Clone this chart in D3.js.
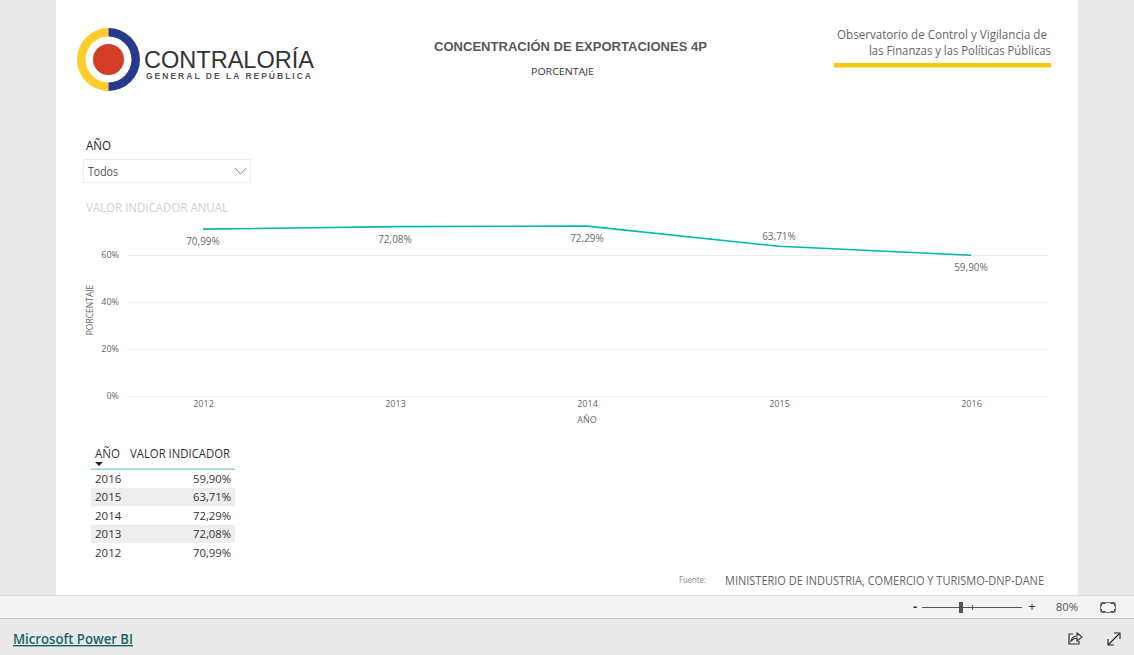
<!DOCTYPE html>
<html><head><meta charset="utf-8">
<script src="https://cdn.jsdelivr.net/npm/d3@7/dist/d3.min.js"></script>
<style>html,body{margin:0;padding:0;overflow:hidden;background:#e9e9e9}svg{display:block}text{font-family:"Open Sans",sans-serif}</style>
</head><body><svg id="c" width="1134" height="655"></svg>
<script>
const years = [2012, 2013, 2014, 2015, 2016];
const values = [70.99, 72.08, 72.29, 63.71, 59.90];
const labelOffsets = [16, 16, 16, -6, 16];
const yTicks = [0, 20, 40, 60];
const fmt = v => v.toFixed(2).replace(".", ",") + "%";

const svg = d3.select("#c");
const T = (x, y, s, size, fill, o = {}) => {
  const t = svg.append("text").attr("x", x).attr("y", y).text(s)
    .attr("font-size", size).attr("fill", fill)
    .attr("text-anchor", o.anchor || "start");
  if (o.family) t.style("font-family", o.family);
  if (o.weight) t.attr("font-weight", o.weight);
  if (o.len) t.attr("textLength", o.len).attr("lengthAdjust", o.adjust || "spacingAndGlyphs");
  if (o.deco) t.attr("text-decoration", o.deco);
  return t;
};
const R = (x, y, w, h, fill) => svg.append("rect").attr("x", x).attr("y", y).attr("width", w).attr("height", h).attr("fill", fill);

// page frame
R(0, 0, 1134, 655, "#e9e9e9");
R(56, 0, 1022, 595, "#ffffff");
R(0, 595, 1134, 23, "#f3f3f3");
R(0, 595, 1134, 1, "#dedede");
R(0, 618, 1134, 1, "#c8c8c8");

// logo
const arc = d3.arc();
const lc = svg.append("g").attr("transform", "translate(108.5,59.5)");
lc.append("path").attr("d", arc({innerRadius: 23, outerRadius: 31.5, startAngle: Math.PI, endAngle: 2 * Math.PI})).attr("fill", "#FFCD29");
lc.append("path").attr("d", arc({innerRadius: 23, outerRadius: 31.5, startAngle: 0, endAngle: Math.PI})).attr("fill", "#26398C");
lc.append("circle").attr("r", 15.5).attr("fill", "#D33D28");
T(144, 68, "CONTRALORÍA", 23, "#333333", {family: "Liberation Sans", len: 170});
T(146, 79, "GENERAL DE LA REPÚBLICA", 8.5, "#555555", {family: "Liberation Sans", weight: "bold", len: 165, adjust: "spacing"});

// headers
T(570.5, 50.5, "CONCENTRACIÓN DE EXPORTACIONES 4P", 12, "#595959", {family: "Liberation Sans", weight: "bold", anchor: "middle", len: 273});
T(562.5, 75, "PORCENTAJE", 9.5, "#333333", {anchor: "middle", len: 63});
T(1047, 39, "Observatorio de Control y Vigilancia de", 12.5, "#666666", {anchor: "end", len: 210});
T(1051, 55, "las Finanzas y las Políticas Públicas", 12.5, "#666666", {anchor: "end", len: 182});
R(834, 63, 217, 4.5, "#F2C811");

// slicer
T(86, 150, "AÑO", 12, "#222222", {len: 25});
svg.append("rect").attr("x", 83.5).attr("y", 159.5).attr("width", 167).attr("height", 23).attr("fill", "#fff").attr("stroke", "#eeeeee");
T(88, 176, "Todos", 12, "#555555", {len: 30});
svg.append("path").attr("d", d3.line()([[235, 168], [240.5, 174], [246, 168]])).attr("fill", "none").attr("stroke", "#6f8f8a");

// chart
T(86, 212, "VALOR INDICADOR ANUAL", 12, "#cfcfcf", {len: 142});
const x = d3.scalePoint().domain(years).range([203, 971]);
const y = d3.scaleLinear().domain([0, 60]).range([396, 255]);

const gy = svg.append("g").attr("transform", "translate(127,0)")
  .call(d3.axisLeft(y).tickValues(yTicks).tickSize(-921).tickPadding(8).tickFormat(d => d + "%"));
gy.select(".domain").remove();
gy.selectAll(".tick line").attr("stroke", "#eeeeee");
gy.selectAll(".tick text").attr("fill", "#666666").attr("font-size", 9).style("font-family", "Open Sans");

const gx = svg.append("g").attr("transform", "translate(0,396)")
  .call(d3.axisBottom(x).tickSize(0).tickPadding(5).tickFormat(d3.format("d")));
gx.select(".domain").remove();
gx.selectAll(".tick text").attr("fill", "#666666").attr("font-size", 9).style("font-family", "Open Sans");

T(587, 423, "AÑO", 9, "#666666", {anchor: "middle"});
svg.append("text").attr("transform", "translate(92.5,310) rotate(-90)").attr("text-anchor", "middle")
  .attr("font-size", 8.5).attr("fill", "#666666").text("PORCENTAJE");

svg.append("path").datum(values)
  .attr("d", d3.line().x((d, i) => x(years[i])).y(d => y(d)))
  .attr("fill", "none").attr("stroke", "#01B8AA").attr("stroke-width", 1.6);

svg.selectAll(".dl").data(values).join("text").attr("class", "dl")
  .attr("x", (d, i) => x(years[i]))
  .attr("y", (d, i) => y(d) + labelOffsets[i])
  .attr("text-anchor", "middle").attr("font-size", 10).attr("fill", "#6b6b6b")
  .text(fmt);

// table
T(95, 458, "AÑO", 12, "#333333", {len: 25});
T(130, 458, "VALOR INDICADOR", 12, "#333333", {len: 100});
svg.append("path").attr("d", d3.line()([[95, 462], [103, 462], [99, 466]])).attr("fill", "#222");
R(91, 468.5, 144, 1.5, "#8fd6ce");
const rowH = 18.4;
const rows = years.map((yr, i) => ({yr, v: values[i]})).reverse();
const g = svg.selectAll(".row").data(rows).join("g").attr("class", "row")
  .attr("transform", (d, i) => `translate(0,${469.5 + i * rowH})`);
g.filter((d, i) => i % 2 === 1).append("rect").attr("x", 91).attr("width", 144).attr("height", rowH).attr("fill", "#eeeeee");
g.append("text").attr("x", 95).attr("y", 13.5).attr("font-size", 11.5).attr("fill", "#333").text(d => d.yr);
g.append("text").attr("x", 231).attr("y", 13.5).attr("text-anchor", "end").attr("font-size", 11.5).attr("fill", "#333")
  .attr("textLength", 38).attr("lengthAdjust", "spacingAndGlyphs").text(d => fmt(d.v));

// source
T(679, 583, "Fuente:", 8.5, "#888888", {len: 27});
T(725, 585, "MINISTERIO DE INDUSTRIA, COMERCIO Y TURISMO-DNP-DANE", 12, "#666666", {len: 319});

// zoom bar
T(915, 611, "-", 13, "#333", {anchor: "middle", weight: "bold"});
R(922, 607, 100, 1, "#555");
R(959, 602, 4, 11, "#555");
R(972, 605, 1, 5, "#555");
T(1032, 611, "+", 13, "#333", {anchor: "middle"});
T(1067, 611, "80%", 11.5, "#555", {anchor: "middle"});
svg.append("path").attr("d", "M1101.5 606v-2.5h4M1110.5 603.5h4v2.5M1114.5 609v2.5h-4M1105.5 611.5h-4v-2.5").attr("fill", "none").attr("stroke", "#444");
svg.append("rect").attr("x", 1100.5).attr("y", 602.5).attr("width", 15).attr("height", 10).attr("rx", 1).attr("fill", "none").attr("stroke", "#777");

// bottom bar
T(13, 644, "Microsoft Power BI", 14, "#17656b", {weight: 600, deco: "underline", len: 120});
svg.append("path").attr("d", "M1073 634h-4v10h10v-3").attr("fill", "none").attr("stroke", "#333").attr("stroke-width", 1.2);
svg.append("path").attr("d", "M1071 641c1-4 4-5 6-5v-3l5 4-5 4v-3c-2 0-4 1-6 3z").attr("fill", "none").attr("stroke", "#333").attr("stroke-width", 1.1);
svg.append("path").attr("d", "M1108 645l11-11M1114 633h6v6M1108 639v6h6").attr("fill", "none").attr("stroke", "#222").attr("stroke-width", 1.1);
</script></body></html>
